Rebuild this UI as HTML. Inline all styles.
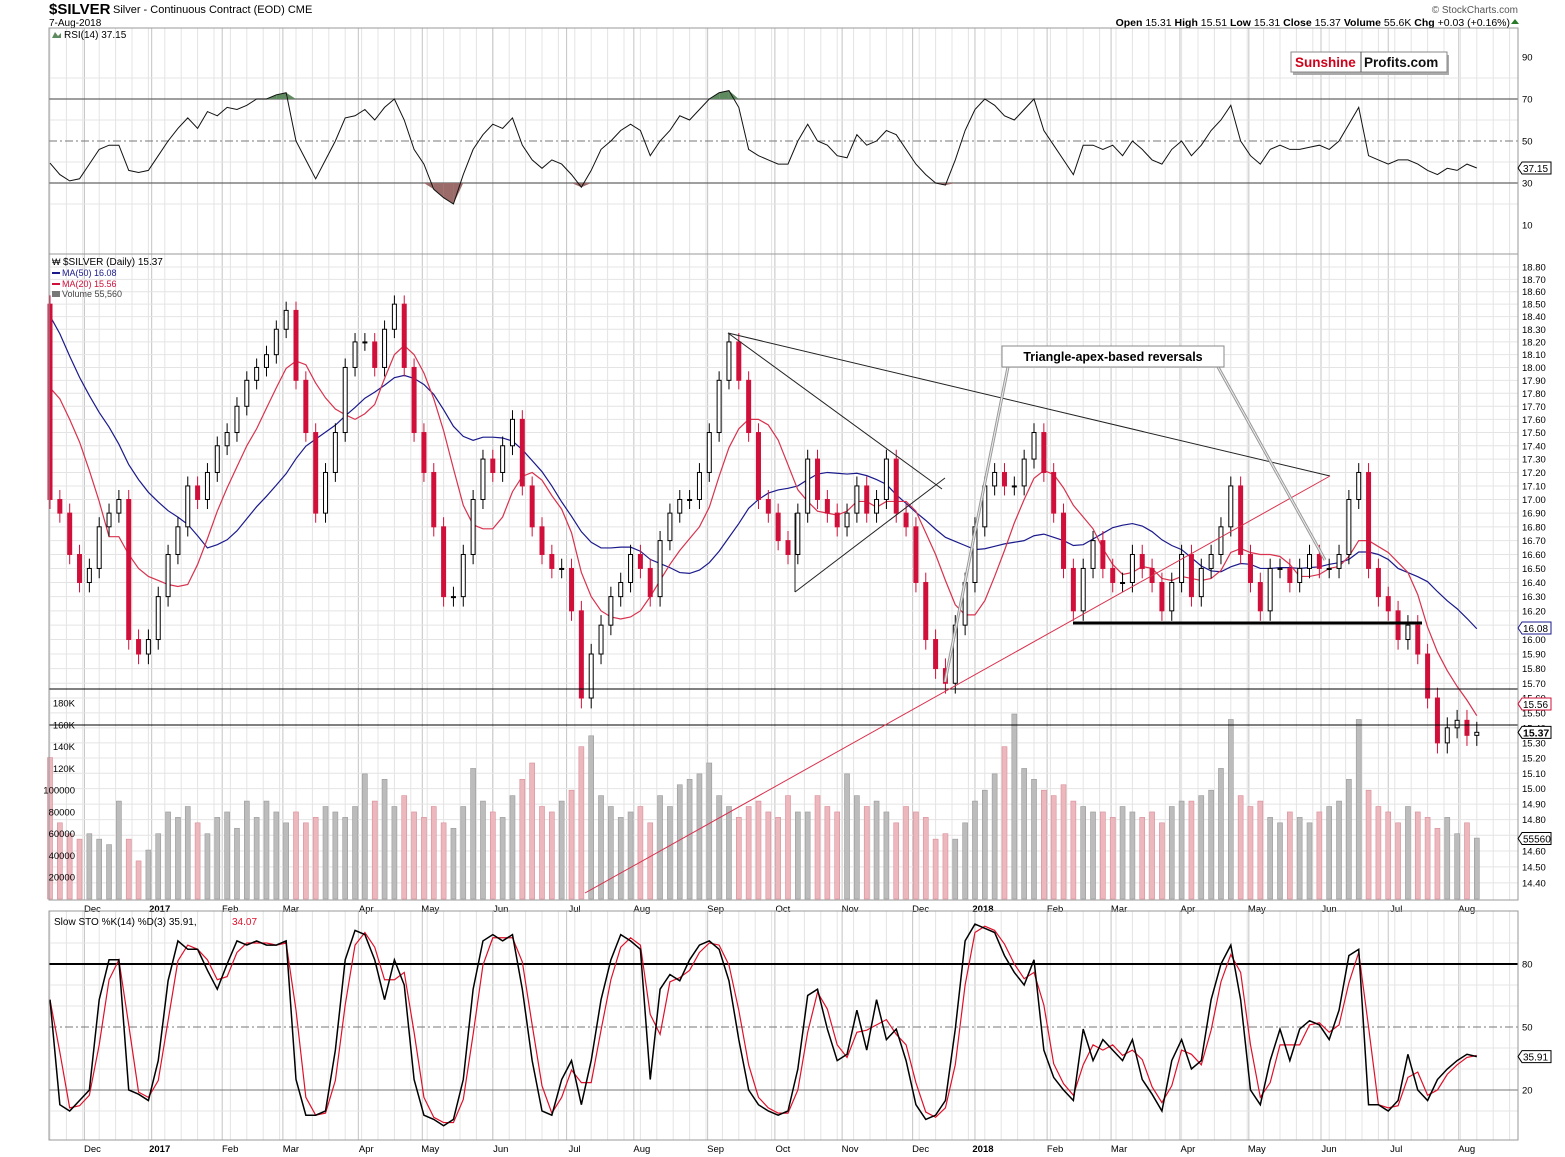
<!DOCTYPE html>
<html><head><meta charset="utf-8">
<style>
html,body{margin:0;padding:0;background:#fff;}
svg{display:block;font-family:"Liberation Sans",sans-serif;}
</style></head>
<body>
<svg id="chart" width="1565" height="1157" viewBox="0 0 1565 1157" xmlns="http://www.w3.org/2000/svg">
<rect x="0" y="0" width="1565" height="1157" fill="#fff"/>
<text x="49" y="14" font-size="15" font-weight="bold">$SILVER</text>
<text x="113" y="13" font-size="11">Silver - Continuous Contract (EOD) CME</text>
<text x="49" y="26" font-size="10">7-Aug-2018</text>
<text x="1518" y="13" font-size="10" fill="#555" text-anchor="end">© StockCharts.com</text>
<text x="1510" y="26" font-size="10.5" text-anchor="end"><tspan font-weight="bold">Open</tspan> 15.31 <tspan font-weight="bold">High</tspan> 15.51 <tspan font-weight="bold">Low</tspan> 15.31 <tspan font-weight="bold">Close</tspan> 15.37 <tspan font-weight="bold">Volume</tspan> 55.6K <tspan font-weight="bold">Chg</tspan> +0.03 (+0.16%)</text>
<path d="M1511 24 l4 -5 l4 5z" fill="#2a7a2a"/>
<g id="grid"></g>
<g id="rsi"></g>
<g id="price"></g>
<g id="sto"></g>
<g id="frames"></g>
</svg>
<script>
// ---------- DATA (3-trading-day sampling, Nov 2016 - 7 Aug 2018) ----------
const priorCloses = [19.5,19.3,19.6,19.2,18.9,19.0,18.8,19.2,18.6,17.8,17.6,17.5,17.7,17.6,18.0,18.4,18.7];
const closes = [17.0,16.9,16.6,16.4,16.5,16.8,16.9,17.0,16.0,15.9,16.0,16.3,16.6,16.8,17.1,17.0,17.2,17.4,17.5,17.7,
17.9,18.0,18.1,18.3,18.45,17.9,17.5,16.9,17.2,17.5,18.0,18.2,18.2,18.0,18.3,18.5,18.0,17.5,17.2,16.8,
16.3,16.3,16.6,17.0,17.3,17.2,17.4,17.6,17.1,16.8,16.6,16.5,16.5,16.2,15.6,15.9,16.1,16.3,16.4,16.6,
16.5,16.3,16.7,16.9,17.0,17.0,17.2,17.5,17.9,18.2,17.9,17.5,17.0,16.9,16.7,16.6,16.9,17.3,17.0,16.9,
16.8,16.9,17.1,16.9,17.0,17.3,16.9,16.8,16.4,16.0,15.8,15.7,16.1,16.4,16.8,17.1,17.2,17.1,17.1,17.3,
17.5,17.2,16.9,16.5,16.2,16.5,16.7,16.5,16.4,16.4,16.6,16.5,16.4,16.2,16.4,16.6,16.3,16.5,16.6,16.8,
17.1,16.6,16.4,16.2,16.5,16.5,16.4,16.5,16.6,16.5,16.5,16.6,17.0,17.2,16.5,16.3,16.2,16.0,16.1,15.9,
15.6,15.3,15.4,15.45,15.35,15.37];
const firstOpen = 18.5;
const volumesK = [130,70,60,55,60,55,50,90,55,35,45,
60,80,75,85,70,60,75,80,65,90,
75,90,80,70,80,70,75,85,80,75,
85,115,90,110,85,95,80,75,85,70,
65,85,120,90,80,75,95,110,125,85,
80,90,100,140,150,95,85,75,80,85,
70,95,85,105,110,115,125,95,85,75,
85,90,80,75,95,80,80,95,85,80,
115,95,85,90,80,70,85,80,75,55,
60,55,70,90,100,115,140,170,120,110,
100,95,105,90,85,80,80,75,85,80,
75,80,70,85,90,90,95,100,120,165,
95,85,90,75,70,80,75,70,80,85,
90,110,165,100,85,80,70,85,80,75,
65,75,60,70,56];
const rsiValues = [39.5,34,31,32,39,46,48,48,36,35,36,43,50,56,61,56,64,62,66,65,
67,70,70,72,73,50,41,32,41,50,61,62,65,60,66,70,60,46,39,27,
23,20,34,46,53,58,56,61,48,41,37,41,39,34,28,36,46,50,55,58,
55,43,50,55,62,60,65,70,73,74,66,46,43,41,39,39,50,58,50,48,
43,42,53,48,50,55,53,46,39,34,30,29,41,55,65,70,67,62,60,65,
70,55,48,41,34,48,48,46,48,43,50,46,41,39,46,50,43,48,55,60,
67,50,43,39,46,48,46,46,47,48,46,50,58,66,43,41,39,41,41,39,
36,34,37,36,39,37.15];
const stoK = [63,13,10,15,20,63,82,82,20,18,15,34,72,91,87,87,77,68,80,91,
89,91,89,89,91,25,8,8,10,39,82,96,94,82,63,82,70,25,8,6,
3,6,25,68,91,94,91,94,68,34,10,8,25,34,13,34,63,82,94,91,
87,25,68,75,72,82,89,91,87,72,44,20,13,10,8,10,30,65,68,49,
34,37,58,39,63,44,49,34,13,6,8,15,49,91,99,97,95,84,76,70,
82,39,26,20,15,49,34,44,39,34,44,25,18,10,34,44,30,34,63,80,
89,63,20,13,34,49,34,49,53,51,44,58,84,87,13,13,10,15,37,20,
15,25,30,34,37,35.91];
const monthLabels = ["Dec","2017","Feb","Mar","Apr","May","Jun","Jul","Aug","Sep","Oct","Nov","Dec","2018","Feb","Mar","Apr","May","Jun","Jul","Aug"];
const monthStartIdx = [10.5,31,52.5,71,94,113.5,135,157.5,178,200.5,221,241.5,263,282,304,323.5,344.5,365.5,387.5,408,429.5];
const priceTicks = [18.8,18.7,18.6,18.5,18.4,18.3,18.2,18.1,18.0,17.9,17.8,17.7,17.6,17.5,17.4,17.3,17.2,17.1,17.0,16.9,16.8,16.7,16.6,16.5,16.4,16.3,16.2,16.1,16.0,15.9,15.8,15.7,15.6,15.5,15.4,15.3,15.2,15.1,15.0,14.9,14.8,14.7,14.6,14.5,14.4];
const volTicks = [180,160,140,120,100,80,60,40,20];
const rsiTicks = [90,70,50,30,10];
const stoTicks = [80,50,20];

// ---------- SCALES ----------
const NS='http://www.w3.org/2000/svg';
const L=49,R=1518;
const xDay = d => 50 + d*3.28;
const xIdx = k => xDay(k*3);
const yP = p => 267 + (Math.log(18.8)-Math.log(p))*2310;
const yV = v => 899 - v*1.088;
const yR = v => 141 - (v-50)*2.1;
const yS = v => 1027 - (v-50)*2.1;
function el(parent,tag,attrs,text){const e=document.createElementNS(NS,tag);for(const a in attrs)e.setAttribute(a,attrs[a]);if(text!==undefined)e.textContent=text;parent.appendChild(e);return e;}
const grid=document.getElementById('grid'),gr=document.getElementById('rsi'),gp=document.getElementById('price'),gs=document.getElementById('sto'),gf=document.getElementById('frames');

const panels=[[28,254],[254,900],[911,1140]];
for(let d=0; xDay(d)<R; d+=5){
  for(const [t,b] of panels){const ln=el(grid,'line',{x1:xDay(d),x2:xDay(d),y1:t,y2:b,stroke:'#e4e4e4','stroke-width':1});
  
  }
}
monthStartIdx.forEach((d,i)=>{
  const x=xDay(d);
  for(const [t,b] of panels){const ln=el(grid,'line',{x1:x,x2:x,y1:t,y2:b,stroke:'#c4c4c4','stroke-width':1});
  
  }
  for(const yy of [912,1152]){
    const t=el(grid,'text',{x:x+8,y:yy,'font-size':9.5,'text-anchor':'middle','font-weight':(monthLabels[i].length===4?'bold':'normal')},monthLabels[i]);
    
    
  }
});
priceTicks.forEach(p=>{
  const y=yP(p);
  const ln=el(grid,'line',{x1:L,x2:R,y1:y,y2:y,stroke:'#e4e4e4'});
  
  
  const t=el(grid,'text',{x:1522,y:y+3.5,'font-size':9.5},p.toFixed(2));
  
  
});
[80,60,40,20].forEach(v=>{const ln=el(grid,'line',{x1:L,x2:R,y1:yR(v),y2:yR(v),stroke:'#e4e4e4'});
  
  });
rsiTicks.forEach(v=>{
  const y=yR(v);
  if(v===70||v===30){const ln=el(gr,'line',{x1:L,x2:R,y1:y,y2:y,stroke:'#666','stroke-width':1.2});
    
    }
  if(v===50){const ln=el(gr,'line',{x1:L,x2:R,y1:y,y2:y,stroke:'#777','stroke-dasharray':'8,3,2,3'});
    
    }
  const t=el(grid,'text',{x:1522,y:y+3.5,'font-size':9.5},v);
  
  
});
[90,70,60,40,30,10].forEach(v=>{const ln=el(grid,'line',{x1:L,x2:R,y1:yS(v),y2:yS(v),stroke:'#e4e4e4'});
  
  });
stoTicks.forEach(v=>{
  const y=yS(v);
  const ln=el(gs,'line',{x1:L,x2:R,y1:y,y2:y,stroke:v===80?'#000':'#777','stroke-width':v===80?2:1,'stroke-dasharray':v===50?'8,3,2,3':'none'});
  
  
  const t=el(grid,'text',{x:1522,y:y+3.5,'font-size':9.5},v);
  
  
});

// ---------- RSI ----------
const rsiPts=rsiValues.map((v,k)=>[xIdx(k),yR(v)]);
for(let k=1;k<rsiValues.length;k++){
  const a=rsiValues[k-1],b=rsiValues[k];
  [[70,1,'#5f8a5f'],[30,-1,'#9a6b68']].forEach(([th,s,c])=>{
    if((a-th)*s>0||(b-th)*s>0){
      const x0=xIdx(k-1),x1=xIdx(k);
      const pg=el(gr,'polygon',{points:`${x0},${yR(s>0?Math.max(a,th):Math.min(a,th))} ${x1},${yR(s>0?Math.max(b,th):Math.min(b,th))} ${x1},${yR(th)} ${x0},${yR(th)}`,fill:c});
      
      
    }
  });
}
const rl=el(gr,'polyline',{points:rsiPts.map(p=>p.join(',')).join(' '),fill:'none',stroke:'#111','stroke-width':1});



// ---------- VOLUME ----------
volumesK.forEach((v,k)=>{
  const o=k===0?firstOpen:closes[k-1], up=closes[k]>=o;
  const r=el(gp,'rect',{x:xIdx(k)-2.5,y:yV(v),width:5,height:899-yV(v),fill:up?'#bcbcbc':'#ecb8be',stroke:up?'#999':'#d88c96','stroke-width':0.6});
  
  
});

// ---------- MOVING AVERAGES ----------
const all=priorCloses.concat(closes);
function ma(n){return closes.map((c,k)=>{const e=k+priorCloses.length;let s=0;for(let j=e-n+1;j<=e;j++)s+=all[j];return s/n;});}
const ma50=ma(17), ma20=ma(7);
const m50=el(gp,'polyline',{points:ma50.map((v,k)=>xIdx(k)+','+yP(v)).join(' '),fill:'none',stroke:'#1a1a8c','stroke-width':1.2});


const m20=el(gp,'polyline',{points:ma20.map((v,k)=>xIdx(k)+','+yP(v)).join(' '),fill:'none',stroke:'#d8324e','stroke-width':1.2});



// ---------- CANDLES ----------
closes.forEach((c,k)=>{
  const o=k===0?firstOpen:closes[k-1], up=c>=o, x=xIdx(k);
  const hi=Math.max(o,c)+0.07, lo=Math.min(o,c)-0.07;
  const w=el(gp,'line',{x1:x,x2:x,y1:yP(hi),y2:yP(lo),stroke:up?'#000':'#d0103a','stroke-width':1});
  
  
  const top=yP(Math.max(o,c)), h=Math.max(1,yP(Math.min(o,c))-top);
  const b=el(gp,'rect',{x:x-2,y:top,width:4,height:h,fill:up?'#fff':'#d0103a',stroke:up?'#000':'#d0103a','stroke-width':1});
  
  
});

// ---------- ANNOTATIONS ----------
function line(g,x1,y1,x2,y2,st,w,name){const l=el(g,'line',{x1,y1,x2,y2,stroke:st,'stroke-width':w});return l;}
line(gp,L,689,R,689,'#000',1,'support-line-upper');
line(gp,L,725,R,725,'#000',1,'support-line-lower');
line(gp,728,333,1330,476,'#222',1,'declining-resistance-line');
line(gp,585,893,1330,476,'#d8324e',1,'rising-support-line');
line(gp,728,333,942,489,'#222',1,'triangle-upper-line');
line(gp,795,592,945,478,'#222',1,'triangle-lower-line');
line(gp,795,513,795,592,'#222',1,'triangle-vertical-line');
line(gp,1073,623,1422,623,'#000',3,'horizontal-support-thick');
line(gp,1008,367,945,682,'#999',3,'apex-pointer-left');
line(gp,1008,367,945,682,'#eee',1,'apex-pointer-left-inner');
line(gp,1218,367,1325,560,'#999',3,'apex-pointer-right');
line(gp,1218,367,1325,560,'#eee',1,'apex-pointer-right-inner');
el(gp,'rect',{x:1002,y:346,width:222,height:21,fill:'#fff',stroke:'#888','stroke-width':1,});
el(gp,'text',{x:1113,y:361,'font-size':12.5,'font-weight':'bold','text-anchor':'middle',},'Triangle-apex-based reversals');

el(gr,'rect',{x:1293,y:55,width:156,height:20,fill:'#aaa',});
el(gr,'rect',{x:1291,y:52,width:156,height:20,fill:'#fff',stroke:'#888',});
el(gr,'line',{x1:1361,y1:52,x2:1361,y2:72,stroke:'#555',});
el(gr,'text',{x:1295,y:67,'font-size':13.5,'font-weight':'bold',fill:'#d0021b',},'Sunshine');
el(gr,'text',{x:1364,y:67,'font-size':13.5,'font-weight':'bold',fill:'#111',},'Profits.com');

// ---------- STOCHASTIC ----------
const stoD=stoK.map((v,k)=>k===0?v:(stoK[k-1]+v)/2);
const sd=el(gs,'polyline',{points:stoD.map((v,k)=>xIdx(k)+','+yS(v)).join(' '),fill:'none',stroke:'#e0102a','stroke-width':1.2});


const sk=el(gs,'polyline',{points:stoK.map((v,k)=>xIdx(k)+','+yS(v)).join(' '),fill:'none',stroke:'#000','stroke-width':1.5});



// ---------- FRAMES & LEGENDS ----------
panels.forEach(([t,b])=>{const r=el(gf,'rect',{x:L,y:t,width:R-L,height:b-t,fill:'none',stroke:'#999'});
  
  });
volTicks.forEach(v=>{
  const t=el(gf,'text',{x:75,y:yV(v)+3.5,'font-size':9.5,'text-anchor':'end'},v>=120?(v+'K'):(v*1000)+'');
  
  
});
function txt(x,y,s,fill,name,size){const t=el(gf,'text',{x,y,'font-size':size||9.5,fill:fill||'#000'},s);return t;}
txt(64,38,'RSI(14) 37.15','#000','rsi-legend',10);
el(gf,'path',{d:'M52 38 l3 -6 l3 4 l3 -3 v5z',fill:'#5f8a5f',});
txt(63,265,'$SILVER (Daily) 15.37','#000','price-legend',10);
txt(52,265,'₩','#000','price-legend-icon',9);
txt(62,276,'MA(50) 16.08','#1a1a8c','ma50-legend',9);
el(gf,'line',{x1:52,x2:60,y1:273,y2:273,stroke:'#1a1a8c','stroke-width':2,});
txt(62,287,'MA(20) 15.56','#d0103a','ma20-legend',9);
el(gf,'line',{x1:52,x2:60,y1:284,y2:284,stroke:'#d0103a','stroke-width':2,});
txt(62,297,'Volume 55,560','#444','volume-legend',9);
el(gf,'rect',{x:52,y:291,width:8,height:6,fill:'#777',});
txt(54,925,'Slow STO %K(14) %D(3) 35.91,','#000','sto-legend',10);
txt(232,925,'34.07','#e0102a','sto-d-legend',10);

function flag(y,label,col,bold,name){
  const g=el(gf,'g',{});
  
  
  el(g,'path',{d:`M1518 ${y} l4 -6 h29 v12 h-29z`,fill:'#fff',stroke:col,'stroke-width':1});
  el(g,'text',{x:1523,y:y+4,'font-size':bold?10.5:10,'font-weight':bold?'bold':'normal',fill:'#000'},label);
}
flag(yP(16.08),'16.08','#1a1a8c',false,'ma50-value-flag');
flag(yP(15.56),'15.56','#d0103a',false,'ma20-value-flag');
flag(yP(15.37),'15.37','#000',true,'close-value-flag');
flag(yV(55.56),'55560','#000',false,'volume-value-flag');
flag(yR(37.15),'37.15','#000',false,'rsi-value-flag');
flag(yS(35.91),'35.91','#000',false,'sto-value-flag');
</script>
</body></html>
